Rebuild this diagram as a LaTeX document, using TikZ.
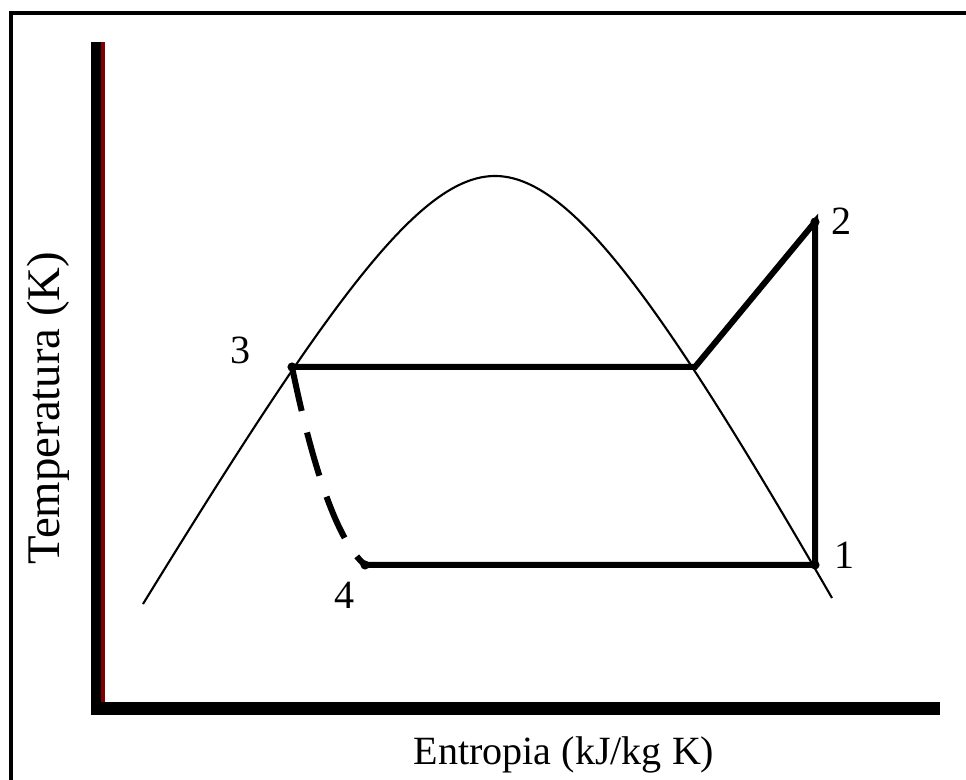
\documentclass[tikz,border=0pt]{standalone}
\usepackage{fontspec}
\setmainfont{Liberation Serif}
\usetikzlibrary{calc}
\definecolor{axisred}{RGB}{128,0,0}
\tikzset{
  proc/.style={line width=0.06cm},
  dome/.style={line width=0.6pt},
  lbl/.style={font=\fontsize{11.4}{13}\selectfont},
}

\begin{document}
\begin{tikzpicture}[x=0.01cm,y=-0.01cm]
  \useasboundingbox (0,0) rectangle (966,780);
  % frame
  \draw[line width=0.04cm] (11,800) -- (11,13) -- (990,13);
  % axes
  \fill[axisred] (101,42) rectangle (105,702);
  \fill (91,42) rectangle (101,715);
  \fill (91,702) rectangle (940,715);
  \node[rotate=90,anchor=base,font=\fontsize{13.3}{16}\selectfont] (ylab) at (60,408) {Temperatura (K)};
  \node[anchor=base,font=\fontsize{11.4}{13}\selectfont] (xlab) at (564,765) {Entropia (kJ/kg K)};
  % saturation dome
  \draw[dome] (143,604) .. controls (330,300) and (420,176) .. (495,176)
              .. controls (570,176) and (660,300) .. (832,598);
  \coordinate (p1) at (815,565);
  \coordinate (p2) at (815,222);
  \coordinate (p3) at (292,367);
  \coordinate (p4) at (365,565);
  \coordinate (v) at (695,367);
  \draw[proc] (p3) -- (v) -- (p2) -- (p1) -- (p4);
  \draw[proc,dash pattern=on 12.8pt off 6.3pt] (p3) .. controls (305,430) and (330,535) .. (p4);
  \fill (p1) circle (1.3pt);
  \fill (p2) circle (1.3pt);
  \fill (p3) circle (1.3pt);
  \fill (p4) circle (1.3pt);
  \node[lbl] (l1) at (845,555) {1};
  \node[lbl] (l2) at (842,221) {2};
  \node[lbl] (l3) at (241,350) {3};
  \node[lbl] (l4) at (345,595) {4};
\end{tikzpicture}
\end{document}
